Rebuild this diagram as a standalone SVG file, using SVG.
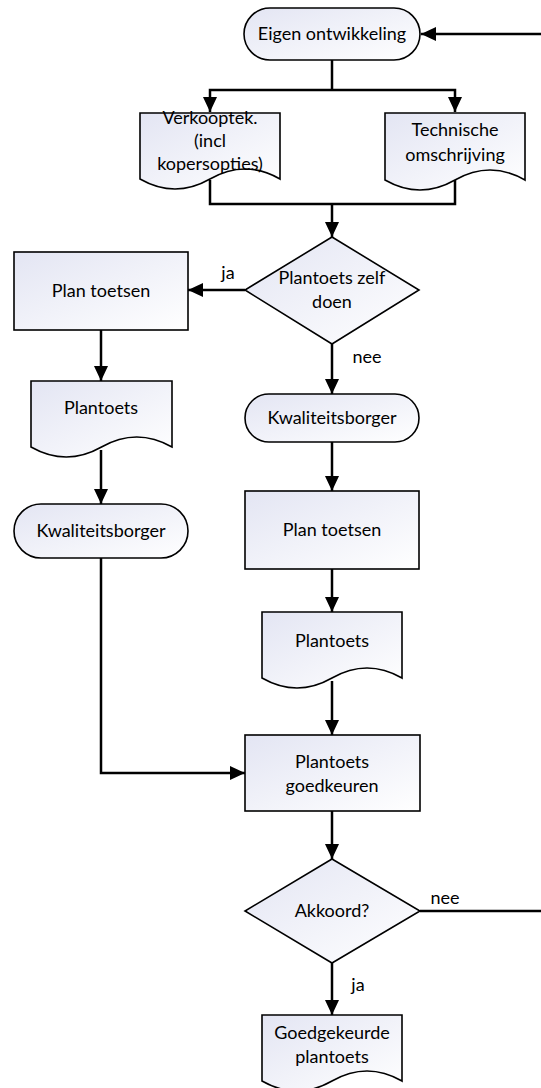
<svg xmlns="http://www.w3.org/2000/svg" width="541" height="1088" viewBox="0 0 541 1088">
<defs>
<linearGradient id="fg" x1="0" y1="0" x2="1" y2="1">
<stop offset="0" stop-color="#e3e5f3"/>
<stop offset="1" stop-color="#ffffff"/>
</linearGradient>
<marker id="ah" markerUnits="userSpaceOnUse" markerWidth="16" markerHeight="14" refX="15" refY="7" orient="auto-start-reverse">
<path d="M0,0 L15,7 L0,14 z" fill="#000"/>
</marker>
</defs>
<style>
.s{fill:url(#fg);stroke:#000;stroke-width:1.6}
.t{font-family:Lato,"Liberation Sans",sans-serif;font-size:18px;fill:#000;text-anchor:middle}
.c{fill:none;stroke:#000;stroke-width:2.5}
.a{marker-end:url(#ah)}
</style>
<g id="connectors">
<path class="c a" d="M541,34 H421"/>
<path class="c" d="M332,60 V90"/>
<path class="c" d="M210,112 V90 H455 V112" marker-start="url(#ah)" marker-end="url(#ah)"/>
<path class="c" d="M210,180 V204 H455 V180"/>
<path class="c a" d="M332,204 V237"/>
<path class="c a" d="M245,290 H188"/>
<path class="c a" d="M332,344 V394"/>
<path class="c a" d="M101,330 V381"/>
<path class="c a" d="M101,450 V504"/>
<path class="c a" d="M332,442 V491"/>
<path class="c a" d="M332,569 V612"/>
<path class="c a" d="M332,681 V735"/>
<path class="c a" d="M101,558 V773 H245"/>
<path class="c a" d="M332,811 V859"/>
<path class="c" d="M420,911 H541"/>
<path class="c a" d="M332,963 V1015"/>
<text class="t" x="228" y="279">ja</text>
<text class="t" x="367" y="363">nee</text>
<text class="t" x="445" y="904">nee</text>
<text class="t" x="358" y="991">ja</text>
</g>
<g id="n-eigen">
<rect class="s" x="244" y="8" width="176" height="52" rx="26"/>
<text class="t" x="332" y="40">Eigen ontwikkeling</text>
</g>
<g id="n-verkoop">
<path class="s" d="M140,113 H280 V179 Q262.5,169 245,169 Q227.5,169 210,179 Q192.5,189 175,189 Q157.5,189 140,179 Z"/>
<text class="t" x="210" y="124">Verkooptek.</text>
<text class="t" x="210" y="147">(incl</text>
<text class="t" x="210" y="170">kopersopties)</text>
</g>
<g id="n-technisch">
<path class="s" d="M385,113 H525 V180 Q507.5,170 490,170 Q472.5,170 455,180 Q437.5,190 420,190 Q402.5,190 385,180 Z"/>
<text class="t" x="455" y="136">Technische</text>
<text class="t" x="455" y="161">omschrijving</text>
</g>
<g id="n-zelf">
<polygon class="s" points="332,237 419,290 332,344 245,290"/>
<text class="t" x="332" y="284">Plantoets zelf</text>
<text class="t" x="332" y="308">doen</text>
</g>
<g id="n-plan1">
<rect class="s" x="14" y="252" width="174" height="78"/>
<text class="t" x="101" y="297">Plan toetsen</text>
</g>
<g id="n-toets1">
<path class="s" d="M31,381 H172 V447 Q154.4,437 136.75,437 Q119.1,437 101.5,447 Q83.9,457 66.25,457 Q48.6,457 31,447 Z"/>
<text class="t" x="101" y="414">Plantoets</text>
</g>
<g id="n-kb1">
<rect class="s" x="14" y="504" width="174" height="54" rx="27"/>
<text class="t" x="101" y="537">Kwaliteitsborger</text>
</g>
<g id="n-kb2">
<rect class="s" x="245" y="394" width="174" height="48" rx="24"/>
<text class="t" x="332" y="424">Kwaliteitsborger</text>
</g>
<g id="n-plan2">
<rect class="s" x="245" y="491" width="174" height="78"/>
<text class="t" x="332" y="536">Plan toetsen</text>
</g>
<g id="n-toets2">
<path class="s" d="M262,612 H402 V678 Q384.5,668 367,668 Q349.5,668 332,678 Q314.5,688 297,688 Q279.5,688 262,678 Z"/>
<text class="t" x="332" y="647">Plantoets</text>
</g>
<g id="n-goedkeuren">
<rect class="s" x="245" y="735" width="175" height="76"/>
<text class="t" x="332" y="768">Plantoets</text>
<text class="t" x="332" y="792">goedkeuren</text>
</g>
<g id="n-akkoord">
<polygon class="s" points="332,859 420,911 332,963 245,911"/>
<text class="t" x="332" y="917">Akkoord?</text>
</g>
<g id="n-goedgekeurd">
<path class="s" d="M262,1015 H402 V1081 Q384.5,1071 367,1071 Q349.5,1071 332,1081 Q314.5,1091 297,1091 Q279.5,1091 262,1081 Z"/>
<text class="t" x="332" y="1039">Goedgekeurde</text>
<text class="t" x="332" y="1063">plantoets</text>
</g>
</svg>
